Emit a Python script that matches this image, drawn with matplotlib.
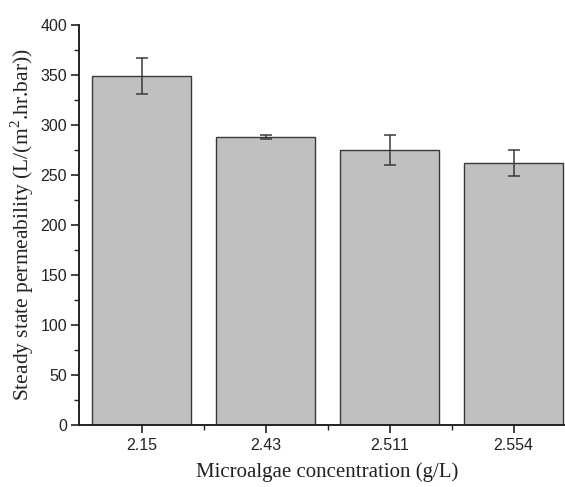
import numpy as np
import matplotlib
matplotlib.use("Agg")
import matplotlib.pyplot as plt
from matplotlib.ticker import MultipleLocator, FixedLocator

plt.rcParams['mathtext.fontset'] = 'custom'
plt.rcParams['mathtext.rm'] = 'Liberation Serif'

# data
concentrations = ['2.15', '2.43', '2.511', '2.554']
permeability = [349, 288, 275, 262]
errors = [18, 2.3, 15, 13]

fig = plt.figure(figsize=(5.65, 4.87), dpi=100)
# the original is cropped on the right, so the axes run past the figure edge
ax = fig.add_axes([0.1407, 0.1273, 0.878, 0.8214])

x = np.arange(len(concentrations))
ax.bar(x, permeability, width=0.8, color='#c0c0c0', edgecolor='#383838', linewidth=1.0,
       yerr=errors, error_kw=dict(ecolor='#3a3a3a', elinewidth=1.1, capsize=4, capthick=1.1))

ax.set_xlim(-0.5, 3.5)
ax.set_ylim(0, 400)
ax.set_xticks(x)
ax.set_xticklabels(concentrations, family='Liberation Sans', fontsize=11.5, color='#222222')
ax.xaxis.set_minor_locator(FixedLocator([0.5, 1.5, 2.5]))
ax.yaxis.set_major_locator(MultipleLocator(50))
ax.yaxis.set_minor_locator(MultipleLocator(25))
for lab in ax.get_yticklabels():
    lab.set_family('Liberation Sans')
    lab.set_fontsize(11.5)
    lab.set_color('#222222')

ax.tick_params(which='major', direction='out', length=6, width=1.2, color='#222222', pad=3)
ax.tick_params(which='minor', direction='out', length=3.5, width=1.0, color='#222222')

for side in ['top', 'right']:
    ax.spines[side].set_visible(False)
for side in ['left', 'bottom']:
    ax.spines[side].set_linewidth(1.4)
    ax.spines[side].set_color('#222222')

ax.set_xlabel('Microalgae concentration (g/L)', family='Liberation Serif', fontsize=15,
              color='#222222', labelpad=7)
ax.set_ylabel('Steady state permeability (L/(m$^2$.hr.bar))', family='Liberation Serif',
              fontsize=15.5, color='#222222', labelpad=3)

plt.savefig('out.png', dpi=100)
